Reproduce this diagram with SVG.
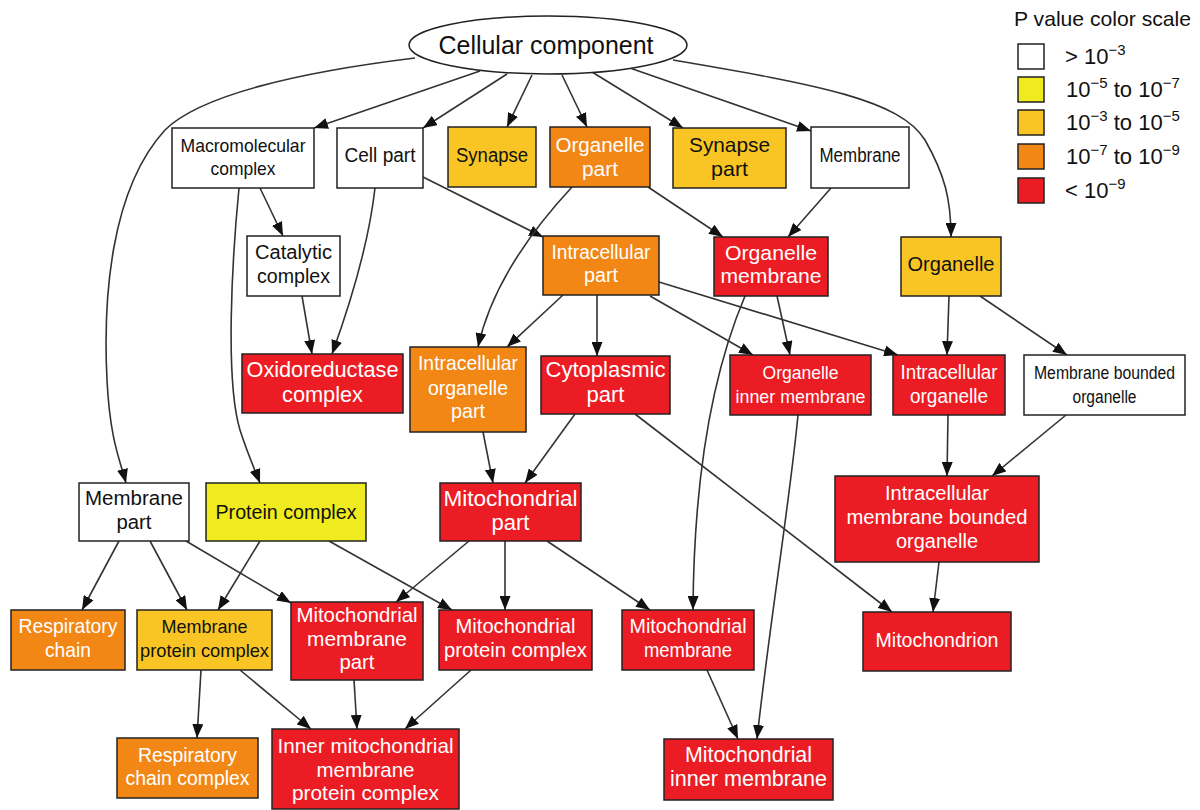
<svg xmlns="http://www.w3.org/2000/svg" width="1200" height="810" viewBox="0 0 1200 810">
<style>
text{font-family:"Liberation Sans",Arial,sans-serif;text-anchor:middle;fill:#111}
.t text{fill:#fff}
rect,ellipse{stroke:#222;stroke-width:1.5}
.w{fill:#fff}.y{fill:#EFEB1E}.yo{fill:#F8C524}.o{fill:#F28716}.r{fill:#EC1C24}
#edges path{fill:none;stroke:#333;stroke-width:1.6;marker-end:url(#ah)}
.lg text{text-anchor:start;font-size:22px}
</style>
<defs>
<marker id="ah" markerUnits="userSpaceOnUse" markerWidth="14" markerHeight="11" refX="14" refY="5.5" orient="auto"><path d="M0,0 L14,5.5 L0,11 Z" fill="#111"/></marker>
</defs>
<g id="edges">
<path d="M415,58 C300,72 200,95 165,130 C110,190 103,300 107,380 C110,440 120,460 126,483"/>
<path d="M480,71 L314,128"/>
<path d="M507,74 L423,128"/>
<path d="M532,75 L507,127"/>
<path d="M562,75 L587,127"/>
<path d="M592,72 L683,128"/>
<path d="M627,67 L811,131"/>
<path d="M673,60 C820,85 900,100 925,140 C945,175 951,200 951,237"/>
<path d="M260,188 L283,236"/>
<path d="M239,188 C232,260 225,380 240,430 C248,455 255,470 260,483"/>
<path d="M375,188 C368,250 348,310 332,354"/>
<path d="M423,177 L543,237"/>
<path d="M302,296 L312,354"/>
<path d="M572,187 Q495,270 478,347"/>
<path d="M648,187 L723,237"/>
<path d="M831,188 L788,237"/>
<path d="M563,295 L507,347"/>
<path d="M597,295 L597,356"/>
<path d="M650,296 L753,355"/>
<path d="M659,282 L898,355"/>
<path d="M777,296 L790,355"/>
<path d="M745,296 C720,355 694,450 693,610"/>
<path d="M798,415 C790,500 770,620 757,739"/>
<path d="M949,296 L947,355"/>
<path d="M980,296 L1067,355"/>
<path d="M575,414 L525,483"/>
<path d="M635,414 L892,612"/>
<path d="M483,432 L493,483"/>
<path d="M948,415 L947,476"/>
<path d="M1066,415 L992,476"/>
<path d="M939,562 L933,612"/>
<path d="M119,541 L82,610"/>
<path d="M150,541 L187,610"/>
<path d="M186,541 L291,603"/>
<path d="M260,541 L218,610"/>
<path d="M329,541 L452,610"/>
<path d="M469,541 L396,602"/>
<path d="M505,541 L505,610"/>
<path d="M547,541 L650,610"/>
<path d="M354,680 L357,729"/>
<path d="M471,670 L405,729"/>
<path d="M201,670 L197,738"/>
<path d="M240,670 L311,729"/>
<path d="M707,670 L738,739"/>
</g>
<g id="n-cellular"><ellipse cx="548" cy="45" rx="139" ry="29" class="w"/><text x="546" y="54" font-size="25" textLength="215" lengthAdjust="spacingAndGlyphs">Cellular component</text></g>
<g id="n-macro"><rect x="172" y="128" width="142" height="60" class="w"/><text x="243" y="152" font-size="19" textLength="125" lengthAdjust="spacingAndGlyphs">Macromolecular</text><text x="243" y="175" font-size="19" textLength="65" lengthAdjust="spacingAndGlyphs">complex</text></g>
<g id="n-cellpart"><rect x="337" y="128" width="86" height="60" class="w"/><text x="380" y="162" font-size="19.5" textLength="71" lengthAdjust="spacingAndGlyphs">Cell part</text></g>
<g id="n-synapse"><rect x="448" y="127" width="88" height="60" class="yo"/><text x="492" y="162" font-size="19.5" textLength="72" lengthAdjust="spacingAndGlyphs">Synapse</text></g>
<g id="n-orgpart" class="t"><rect x="550" y="127" width="100" height="60" class="o"/><text x="600" y="152" font-size="20.5" textLength="89" lengthAdjust="spacingAndGlyphs">Organelle</text><text x="600" y="176" font-size="20.5" textLength="36" lengthAdjust="spacingAndGlyphs">part</text></g>
<g id="n-synpart"><rect x="673" y="128" width="113" height="60" class="yo"/><text x="729.5" y="152" font-size="21" textLength="81" lengthAdjust="spacingAndGlyphs">Synapse</text><text x="729.5" y="176" font-size="21" textLength="37" lengthAdjust="spacingAndGlyphs">part</text></g>
<g id="n-membrane"><rect x="811" y="127" width="98" height="61" class="w"/><text x="860" y="162" font-size="19.5" textLength="81" lengthAdjust="spacingAndGlyphs">Membrane</text></g>
<g id="n-catalytic"><rect x="247" y="236" width="93" height="60" class="w"/><text x="293.5" y="259" font-size="20" textLength="77" lengthAdjust="spacingAndGlyphs">Catalytic</text><text x="293.5" y="283" font-size="20" textLength="73" lengthAdjust="spacingAndGlyphs">complex</text></g>
<g id="n-intrapart" class="t"><rect x="543" y="236" width="116" height="59" class="o"/><text x="601" y="259" font-size="20" textLength="99" lengthAdjust="spacingAndGlyphs">Intracellular</text><text x="601" y="282" font-size="20" textLength="34" lengthAdjust="spacingAndGlyphs">part</text></g>
<g id="n-orgmem" class="t"><rect x="714" y="237" width="114" height="59" class="r"/><text x="771" y="260" font-size="21" textLength="92" lengthAdjust="spacingAndGlyphs">Organelle</text><text x="771" y="283" font-size="21" textLength="101" lengthAdjust="spacingAndGlyphs">membrane</text></g>
<g id="n-organelle"><rect x="901" y="237" width="100" height="59" class="yo"/><text x="951" y="271" font-size="20" textLength="87" lengthAdjust="spacingAndGlyphs">Organelle</text></g>
<g id="n-oxido" class="t"><rect x="242" y="354" width="161" height="59" class="r"/><text x="322.5" y="377" font-size="21.5" textLength="152" lengthAdjust="spacingAndGlyphs">Oxidoreductase</text><text x="322.5" y="402" font-size="21.5" textLength="81" lengthAdjust="spacingAndGlyphs">complex</text></g>
<g id="n-iop" class="t"><rect x="410" y="347" width="116" height="85" class="o"/><text x="468" y="370" font-size="19.8" textLength="100" lengthAdjust="spacingAndGlyphs">Intracellular</text><text x="468" y="395" font-size="19.8" textLength="80" lengthAdjust="spacingAndGlyphs">organelle</text><text x="468" y="418" font-size="19.8" textLength="34" lengthAdjust="spacingAndGlyphs">part</text></g>
<g id="n-cyto" class="t"><rect x="541" y="356" width="129" height="58" class="r"/><text x="605.5" y="377" font-size="22" textLength="120" lengthAdjust="spacingAndGlyphs">Cytoplasmic</text><text x="605.5" y="402" font-size="22" textLength="38" lengthAdjust="spacingAndGlyphs">part</text></g>
<g id="n-oim" class="t"><rect x="730" y="355" width="141" height="60" class="r"/><text x="800.5" y="379" font-size="19" textLength="76" lengthAdjust="spacingAndGlyphs">Organelle</text><text x="800.5" y="403" font-size="19" textLength="130" lengthAdjust="spacingAndGlyphs">inner membrane</text></g>
<g id="n-io" class="t"><rect x="893" y="355" width="112" height="60" class="r"/><text x="949" y="379" font-size="20" textLength="97" lengthAdjust="spacingAndGlyphs">Intracellular</text><text x="949" y="403" font-size="20" textLength="78" lengthAdjust="spacingAndGlyphs">organelle</text></g>
<g id="n-mbo"><rect x="1024" y="355" width="161" height="60" class="w"/><text x="1104.5" y="379" font-size="17.6" textLength="141" lengthAdjust="spacingAndGlyphs">Membrane bounded</text><text x="1104.5" y="403" font-size="17.6" textLength="64" lengthAdjust="spacingAndGlyphs">organelle</text></g>
<g id="n-imbo" class="t"><rect x="835" y="476" width="204" height="86" class="r"/><text x="937" y="500" font-size="20.5" textLength="104" lengthAdjust="spacingAndGlyphs">Intracellular</text><text x="937" y="524" font-size="20.5" textLength="181" lengthAdjust="spacingAndGlyphs">membrane bounded</text><text x="937" y="548" font-size="20.5" textLength="82" lengthAdjust="spacingAndGlyphs">organelle</text></g>
<g id="n-mempart"><rect x="79" y="483" width="110" height="58" class="w"/><text x="134" y="505" font-size="20.5" textLength="98" lengthAdjust="spacingAndGlyphs">Membrane</text><text x="134" y="529" font-size="20.5" textLength="35" lengthAdjust="spacingAndGlyphs">part</text></g>
<g id="n-protcomp"><rect x="206" y="483" width="160" height="58" class="y"/><text x="286" y="519" font-size="20" textLength="141" lengthAdjust="spacingAndGlyphs">Protein complex</text></g>
<g id="n-mitopart" class="t"><rect x="440" y="483" width="141" height="58" class="r"/><text x="510.5" y="506" font-size="22.3" textLength="134" lengthAdjust="spacingAndGlyphs">Mitochondrial</text><text x="510.5" y="530" font-size="22.3" textLength="38" lengthAdjust="spacingAndGlyphs">part</text></g>
<g id="n-resp" class="t"><rect x="11" y="610" width="114" height="60" class="o"/><text x="68" y="633" font-size="19.8" textLength="99" lengthAdjust="spacingAndGlyphs">Respiratory</text><text x="68" y="657" font-size="19.8" textLength="46" lengthAdjust="spacingAndGlyphs">chain</text></g>
<g id="n-mpc"><rect x="137" y="610" width="135" height="60" class="yo"/><text x="204.5" y="633" font-size="18.5" textLength="86" lengthAdjust="spacingAndGlyphs">Membrane</text><text x="204.5" y="657" font-size="18.5" textLength="129" lengthAdjust="spacingAndGlyphs">protein complex</text></g>
<g id="n-mmp" class="t"><rect x="291" y="602" width="132" height="78" class="r"/><text x="357" y="622" font-size="20.8" textLength="121" lengthAdjust="spacingAndGlyphs">Mitochondrial</text><text x="357" y="646" font-size="20.8" textLength="100" lengthAdjust="spacingAndGlyphs">membrane</text><text x="357" y="669" font-size="20.8" textLength="35" lengthAdjust="spacingAndGlyphs">part</text></g>
<g id="n-mpcx" class="t"><rect x="439" y="610" width="153" height="60" class="r"/><text x="515.5" y="633" font-size="20.5" textLength="120" lengthAdjust="spacingAndGlyphs">Mitochondrial</text><text x="515.5" y="657" font-size="20.5" textLength="143" lengthAdjust="spacingAndGlyphs">protein complex</text></g>
<g id="n-mm" class="t"><rect x="622" y="610" width="132" height="60" class="r"/><text x="688" y="633" font-size="20.5" textLength="117" lengthAdjust="spacingAndGlyphs">Mitochondrial</text><text x="688" y="657" font-size="20.5" textLength="88" lengthAdjust="spacingAndGlyphs">membrane</text></g>
<g id="n-mitochondrion" class="t"><rect x="863" y="612" width="148" height="59" class="r"/><text x="937" y="647" font-size="20" textLength="123" lengthAdjust="spacingAndGlyphs">Mitochondrion</text></g>
<g id="n-rcc" class="t"><rect x="117" y="738" width="141" height="60" class="o"/><text x="187.5" y="762" font-size="20" textLength="99" lengthAdjust="spacingAndGlyphs">Respiratory</text><text x="187.5" y="785" font-size="20" textLength="124" lengthAdjust="spacingAndGlyphs">chain complex</text></g>
<g id="n-immpc" class="t"><rect x="272" y="729" width="187" height="80" class="r"/><text x="365.5" y="753" font-size="21" textLength="176" lengthAdjust="spacingAndGlyphs">Inner mitochondrial</text><text x="365.5" y="777" font-size="21" textLength="98" lengthAdjust="spacingAndGlyphs">membrane</text><text x="365.5" y="800" font-size="21" textLength="147" lengthAdjust="spacingAndGlyphs">protein complex</text></g>
<g id="n-mim" class="t"><rect x="664" y="739" width="169" height="61" class="r"/><text x="748.5" y="762" font-size="21.5" textLength="127" lengthAdjust="spacingAndGlyphs">Mitochondrial</text><text x="748.5" y="786" font-size="21.5" textLength="157" lengthAdjust="spacingAndGlyphs">inner membrane</text></g>
<g id="legend" class="lg">
<text x="1014" y="26" style="font-size:21px" textLength="177" lengthAdjust="spacingAndGlyphs">P value color scale</text>
<rect x="1018" y="44" width="26" height="25" class="w"/>
<rect x="1018" y="77" width="26" height="25" class="y"/>
<rect x="1018" y="110" width="26" height="25" class="yo"/>
<rect x="1018" y="144" width="26" height="25" class="o"/>
<rect x="1018" y="178" width="26" height="25" class="r"/>
<text x="1065" y="64">&gt; 10<tspan dy="-9" font-size="15">−3</tspan></text>
<text x="1066" y="97">10<tspan dy="-9" font-size="15">−5</tspan><tspan dy="9"> to 10</tspan><tspan dy="-9" font-size="15">−7</tspan></text>
<text x="1066" y="130">10<tspan dy="-9" font-size="15">−3</tspan><tspan dy="9"> to 10</tspan><tspan dy="-9" font-size="15">−5</tspan></text>
<text x="1066" y="164">10<tspan dy="-9" font-size="15">−7</tspan><tspan dy="9"> to 10</tspan><tspan dy="-9" font-size="15">−9</tspan></text>
<text x="1065" y="198">&lt; 10<tspan dy="-9" font-size="15">−9</tspan></text>
</g>
</svg>
